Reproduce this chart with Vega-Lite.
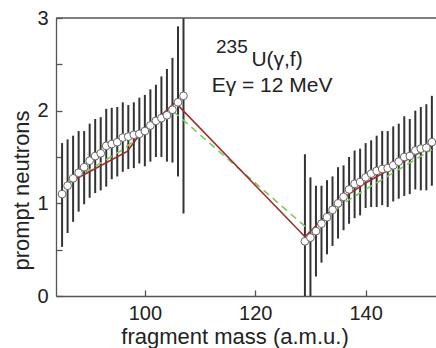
{
  "$schema": "https://vega.github.io/schema/vega-lite/v6.json",
  "width": 380,
  "height": 278,
  "autosize": {"type": "none"},
  "padding": {"left": 56, "top": 18, "right": 0, "bottom": 52},
  "background": "white",
  "config": {
    "view": {"stroke": null},
    "font": "Liberation Sans",
    "axis": {
      "grid": false,
      "domainColor": "#555555",
      "domainWidth": 1.3,
      "tickColor": "#555555",
      "tickWidth": 1.3,
      "tickSize": -6,
      "labelFont": "Liberation Sans",
      "labelFontSize": 20,
      "labelColor": "#222222",
      "titleFont": "Liberation Sans",
      "titleFontSize": 22,
      "titleFontWeight": "normal",
      "titleColor": "#222222"
    }
  },
  "datasets": {
    "yields": [
      {"mass": 85, "nu": 1.10, "lo": 0.53, "hi": 1.65},
      {"mass": 86, "nu": 1.19, "lo": 0.68, "hi": 1.69},
      {"mass": 87, "nu": 1.27, "lo": 0.80, "hi": 1.73},
      {"mass": 88, "nu": 1.33, "lo": 0.91, "hi": 1.78},
      {"mass": 89, "nu": 1.39, "lo": 0.99, "hi": 1.78},
      {"mass": 90, "nu": 1.46, "lo": 1.06, "hi": 1.86},
      {"mass": 91, "nu": 1.51, "lo": 1.11, "hi": 1.91},
      {"mass": 92, "nu": 1.54, "lo": 1.14, "hi": 1.93},
      {"mass": 93, "nu": 1.62, "lo": 1.18, "hi": 2.02},
      {"mass": 94, "nu": 1.64, "lo": 1.26, "hi": 2.03},
      {"mass": 95, "nu": 1.66, "lo": 1.29, "hi": 2.04},
      {"mass": 96, "nu": 1.71, "lo": 1.34, "hi": 2.09},
      {"mass": 97, "nu": 1.72, "lo": 1.37, "hi": 2.06},
      {"mass": 98, "nu": 1.74, "lo": 1.38, "hi": 2.09},
      {"mass": 99, "nu": 1.75, "lo": 1.43, "hi": 2.14},
      {"mass": 100, "nu": 1.78, "lo": 1.40, "hi": 2.17},
      {"mass": 101, "nu": 1.84, "lo": 1.45, "hi": 2.23},
      {"mass": 102, "nu": 1.89, "lo": 1.50, "hi": 2.28},
      {"mass": 103, "nu": 1.92, "lo": 1.50, "hi": 2.37},
      {"mass": 104, "nu": 1.95, "lo": 1.45, "hi": 2.45},
      {"mass": 105, "nu": 2.01, "lo": 1.44, "hi": 2.57},
      {"mass": 106, "nu": 2.09, "lo": 1.29, "hi": 2.91},
      {"mass": 107, "nu": 2.16, "lo": 0.89, "hi": 3.43},
      {"mass": 129, "nu": 0.59, "lo": -0.35, "hi": 1.53},
      {"mass": 130, "nu": 0.63, "lo": -0.02, "hi": 1.28},
      {"mass": 131, "nu": 0.70, "lo": 0.21, "hi": 1.19},
      {"mass": 132, "nu": 0.78, "lo": 0.36, "hi": 1.19},
      {"mass": 133, "nu": 0.85, "lo": 0.45, "hi": 1.25},
      {"mass": 134, "nu": 0.93, "lo": 0.54, "hi": 1.29},
      {"mass": 135, "nu": 1.00, "lo": 0.62, "hi": 1.39},
      {"mass": 136, "nu": 1.07, "lo": 0.71, "hi": 1.41},
      {"mass": 137, "nu": 1.15, "lo": 0.78, "hi": 1.50},
      {"mass": 138, "nu": 1.21, "lo": 0.84, "hi": 1.57},
      {"mass": 139, "nu": 1.23, "lo": 0.87, "hi": 1.59},
      {"mass": 140, "nu": 1.28, "lo": 0.95, "hi": 1.65},
      {"mass": 141, "nu": 1.32, "lo": 0.96, "hi": 1.68},
      {"mass": 142, "nu": 1.35, "lo": 0.96, "hi": 1.73},
      {"mass": 143, "nu": 1.37, "lo": 0.98, "hi": 1.78},
      {"mass": 144, "nu": 1.38, "lo": 0.96, "hi": 1.78},
      {"mass": 145, "nu": 1.41, "lo": 1.02, "hi": 1.83},
      {"mass": 146, "nu": 1.45, "lo": 1.05, "hi": 1.86},
      {"mass": 147, "nu": 1.50, "lo": 1.08, "hi": 1.94},
      {"mass": 148, "nu": 1.51, "lo": 1.10, "hi": 1.91},
      {"mass": 149, "nu": 1.57, "lo": 1.15, "hi": 2.00},
      {"mass": 150, "nu": 1.59, "lo": 1.14, "hi": 2.04},
      {"mass": 151, "nu": 1.60, "lo": 1.14, "hi": 2.07},
      {"mass": 152, "nu": 1.66, "lo": 1.19, "hi": 2.16}
    ],
    "modelSolid": [
      {"mass": 86.5, "nu": 1.23},
      {"mass": 96.8, "nu": 1.56},
      {"mass": 98.8, "nu": 1.72},
      {"mass": 105.5, "nu": 2.09},
      {"mass": 129, "nu": 0.64},
      {"mass": 133, "nu": 0.88},
      {"mass": 136, "nu": 1.06},
      {"mass": 140, "nu": 1.22},
      {"mass": 146, "nu": 1.42},
      {"mass": 152, "nu": 1.62}
    ],
    "modelDashed": [
      {"mass": 85.5, "nu": 1.20},
      {"mass": 96, "nu": 1.58},
      {"mass": 105, "nu": 2.0},
      {"mass": 130, "nu": 0.70},
      {"mass": 136, "nu": 1.0},
      {"mass": 140, "nu": 1.15},
      {"mass": 152, "nu": 1.58}
    ]
  },
  "layer": [
    {
      "data": {"name": "yields"},
      "mark": {"type": "rule", "color": "#333333", "strokeWidth": 2, "clip": true},
      "encoding": {
        "x": {
          "field": "mass", "type": "quantitative",
          "scale": {"domain": [83.9, 152.75], "nice": false, "zero": false},
          "axis": {"values": [100, 120, 140], "title": "fragment mass (a.m.u.)", "labelPadding": 13.5, "titleX": 178.5, "titleY": 47, "titleBaseline": "alphabetic"}
        },
        "y": {
          "field": "lo", "type": "quantitative",
          "scale": {"domain": [0, 3], "nice": false},
          "axis": {"values": [0, 0.5, 1, 1.5, 2, 2.5, 3], "labelExpr": "datum.value % 1 ? '' : '' + datum.value", "title": "prompt neutrons", "labelPadding": 14, "titleX": -28, "titleY": 172, "titleBaseline": "alphabetic"}
        },
        "y2": {"field": "hi"}
      }
    },
    {
      "data": {"values": [{}]},
      "mark": {"type": "rule", "color": "#555555", "strokeWidth": 1.3},
      "encoding": {"y": {"datum": 3}}
    },
    {
      "data": {"name": "modelDashed"},
      "mark": {"type": "line", "color": "#7dc95e", "strokeWidth": 1.6, "strokeDash": [7, 5], "clip": true},
      "encoding": {
        "x": {"field": "mass", "type": "quantitative"},
        "y": {"field": "nu", "type": "quantitative"}
      }
    },
    {
      "data": {"name": "modelSolid"},
      "mark": {"type": "line", "color": "#9e2a2b", "strokeWidth": 1.6, "clip": true},
      "encoding": {
        "x": {"field": "mass", "type": "quantitative"},
        "y": {"field": "nu", "type": "quantitative"}
      }
    },
    {
      "data": {"name": "yields"},
      "mark": {"type": "point", "shape": "circle", "filled": true, "fill": "white", "stroke": "#666666", "strokeWidth": 1, "size": 60, "opacity": 1},
      "encoding": {
        "x": {"field": "mass", "type": "quantitative"},
        "y": {"field": "nu", "type": "quantitative"}
      }
    },
    {
      "data": {"values": [{}]},
      "mark": {"type": "text", "text": "235", "fontSize": 19, "align": "left", "baseline": "alphabetic", "color": "#222222"},
      "encoding": {"x": {"datum": 112.9}, "y": {"datum": 2.62}}
    },
    {
      "data": {"values": [{}]},
      "mark": {"type": "text", "text": "U(γ,f)", "fontSize": 21, "align": "left", "baseline": "alphabetic", "color": "#222222"},
      "encoding": {"x": {"datum": 119.3}, "y": {"datum": 2.48}}
    },
    {
      "data": {"values": [{}]},
      "mark": {"type": "text", "text": "Eγ = 12 MeV", "fontSize": 21, "align": "left", "baseline": "alphabetic", "color": "#222222"},
      "encoding": {"x": {"datum": 112.1}, "y": {"datum": 2.2}}
    }
  ]
}
